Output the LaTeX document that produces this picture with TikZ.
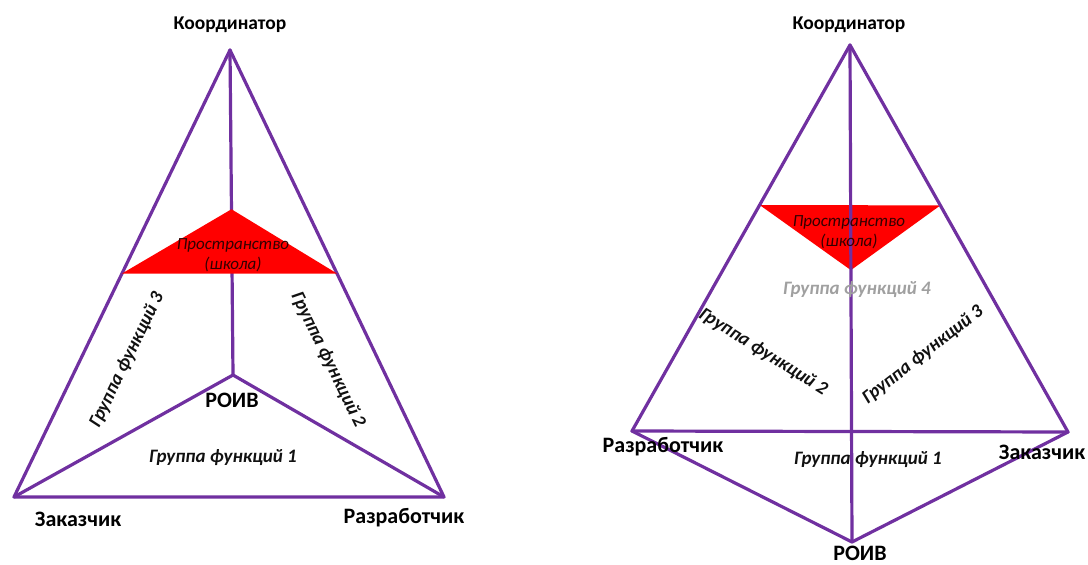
\documentclass[tikz,border=0pt]{standalone}
\usepackage{fontspec}
\setmainfont{Carlito}
\usetikzlibrary{calc}
\definecolor{edgepurple}{HTML}{7030A0}
\definecolor{spacered}{HTML}{FF0000}
\definecolor{grouptext}{HTML}{111111}
\definecolor{greytext}{HTML}{A0A0A0}
\tikzset{
  edge/.style={draw=edgepurple, line width=3.2pt, line join=round, line cap=round},
  space/.style={fill=spacered},
  vlabel/.style={font=\bfseries\fontsize{22}{24}\selectfont, text=black, inner sep=0pt},
  toplabel/.style={font=\bfseries\fontsize{19.5}{21}\selectfont, text=black, inner sep=0pt},
  glabel/.style={font=\bfseries\itshape\fontsize{19}{21}\selectfont, text=grouptext, inner sep=1pt},
  slabel/.style={font=\itshape\fontsize{17}{20}\selectfont, text=black!80!red, align=center, inner sep=1pt}
}
\begin{document}
\begin{tikzpicture}[x=1pt,y=-1pt]
\useasboundingbox (0,0) rectangle (1088,565);
% ---------- left pyramid ----------
\coordinate (LK) at (230,50);
\coordinate (LZ) at (14,497);
\coordinate (LR) at (444,497);
\coordinate (LO) at (233,375);
\draw[edge] (LK) -- (LZ) -- (LR) -- cycle;
\draw[edge] (LK) -- (LO);
\draw[edge] (LZ) -- (LO) -- (LR);
\fill[space] ($(LK)!0.5!(LZ)$) -- ($(LK)!0.49!(LO)$) -- ($(LK)!0.5!(LR)$) -- cycle;
\node[toplabel] (lk) at (230,25) {Координатор};
\node[vlabel] (lz) at (78,519) {Заказчик};
\node[vlabel] (lr) at (404,518) {Разработчик};
\node[vlabel] (lo) at (232,400) {РОИВ};
\node[slabel] (ls) at (233,255) {Пространство\\(школа)};
\node[glabel] (lg1) at (223,458) {Группа функций 1};
\node[glabel, rotate=64] (lg3) at (127,360) {Группа функций 3};
\node[glabel, rotate=-64] (lg2) at (328,360) {Группа функций 2};
% ---------- right pyramid ----------
\coordinate (RK) at (850,45);
\coordinate (RD) at (632,431);
\coordinate (RZ) at (1068,432);
\coordinate (RO) at (852,542);
\fill[space] ($(RK)!0.4145!(RD)$) -- ($(RK)!0.4145!(RZ)$) -- ($(RK)!0.453!(RO)$) -- cycle;
\draw[edge] (RK) -- (RD) -- (RO) -- (RZ) -- cycle;
\draw[edge] (RK) -- (RO);
\draw[edge] (RD) -- (RZ);
\node[toplabel] (rk) at (849,25) {Координатор};
\node[vlabel] (rd) at (663,447) {Разработчик};
\node[vlabel] (rz) at (1042,452) {Заказчик};
\node[vlabel] (ro) at (860,553) {РОИВ};
\node[slabel] (rs) at (849,232) {Пространство\\(школа)};
\node[glabel, text=greytext] (rg4) at (857,290) {Группа функций 4};
\node[glabel, rotate=-32] (rg2) at (763,352) {Группа функций 2};
\node[glabel, rotate=38] (rg3) at (923,355) {Группа функций 3};
\node[glabel] (rg1) at (868,460) {Группа функций 1};
\end{tikzpicture}
\end{document}
